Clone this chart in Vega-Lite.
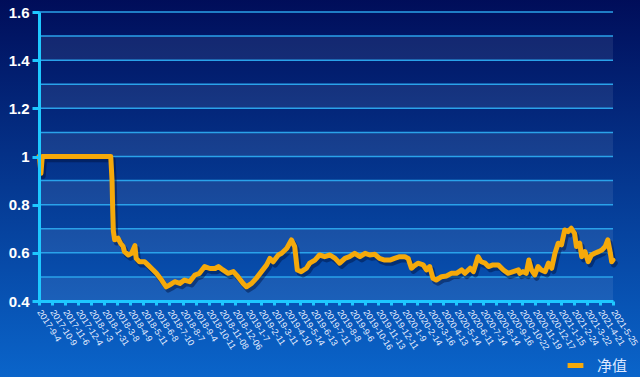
{
  "$schema": "https://vega.github.io/schema/vega-lite/v6.json",
  "width": 574,
  "height": 289,
  "autosize": "none",
  "padding": {"left": 39, "top": 12, "right": 27, "bottom": 76},
  "background": "#04309a",
  "config": {
    "view": {"stroke": null},
    "font": "Liberation Sans",
    "axisX": {
      "title": null, "grid": false,
      "labelAngle": 57, "labelAlign": "left", "labelBaseline": "middle",
      "labelFontSize": 9, "labelColor": "#e6eeff", "labelPadding": 5,
      "labelOverlap": false, "labelFlush": false, "labelBound": false,
      "domainColor": "#1ec8ff", "domainWidth": 3,
      "tickColor": "#1ec8ff", "tickWidth": 3, "tickSize": 4
    },
    "axisY": {
      "title": null, "grid": false,
      "labelFontSize": 15, "labelFontWeight": "bold", "labelColor": "#ffffff", "labelPadding": 3,
      "labelFont": "Liberation Sans",
      "domainColor": "#1ec8ff", "domainWidth": 3,
      "tickColor": "#1ec8ff", "tickWidth": 3, "tickSize": 7
    }
  },
  "datasets": {
    "bands": [
      {"lo": 0.4, "hi": 0.5}, {"lo": 0.6, "hi": 0.7}, {"lo": 0.8, "hi": 0.9},
      {"lo": 1.0, "hi": 1.1}, {"lo": 1.2, "hi": 1.3}, {"lo": 1.4, "hi": 1.5}
    ],
    "grid": [
      {"v": 0.4}, {"v": 0.5}, {"v": 0.6}, {"v": 0.7}, {"v": 0.8}, {"v": 0.9}, {"v": 1.0},
      {"v": 1.1}, {"v": 1.2}, {"v": 1.3}, {"v": 1.4}, {"v": 1.5}, {"v": 1.6}
    ],
    "nav": [
      {"day": 0, "nav": 1.0}, {"day": 1, "nav": 0.99}, {"day": 3, "nav": 0.93}, {"day": 5, "nav": 1.0}, {"day": 110, "nav": 1.0},
      {"day": 112, "nav": 0.9}, {"day": 113, "nav": 0.78}, {"day": 114, "nav": 0.69}, {"day": 116, "nav": 0.654},
      {"day": 121, "nav": 0.661}, {"day": 125, "nav": 0.64}, {"day": 129, "nav": 0.626}, {"day": 131, "nav": 0.605},
      {"day": 137, "nav": 0.591}, {"day": 142, "nav": 0.598}, {"day": 147, "nav": 0.63}, {"day": 149, "nav": 0.577},
      {"day": 154, "nav": 0.563}, {"day": 162, "nav": 0.563}, {"day": 167, "nav": 0.55}, {"day": 175, "nav": 0.529},
      {"day": 180, "nav": 0.515}, {"day": 188, "nav": 0.487}, {"day": 195, "nav": 0.459}, {"day": 200, "nav": 0.466},
      {"day": 208, "nav": 0.48}, {"day": 216, "nav": 0.473}, {"day": 223, "nav": 0.487}, {"day": 231, "nav": 0.48},
      {"day": 239, "nav": 0.508}, {"day": 246, "nav": 0.515}, {"day": 254, "nav": 0.543}, {"day": 262, "nav": 0.535},
      {"day": 270, "nav": 0.535}, {"day": 275, "nav": 0.543}, {"day": 282, "nav": 0.529}, {"day": 290, "nav": 0.515},
      {"day": 298, "nav": 0.522}, {"day": 305, "nav": 0.501}, {"day": 313, "nav": 0.473}, {"day": 318, "nav": 0.459},
      {"day": 326, "nav": 0.473}, {"day": 333, "nav": 0.494}, {"day": 341, "nav": 0.522}, {"day": 349, "nav": 0.55},
      {"day": 354, "nav": 0.577}, {"day": 359, "nav": 0.563}, {"day": 367, "nav": 0.591}, {"day": 372, "nav": 0.598},
      {"day": 380, "nav": 0.619}, {"day": 387, "nav": 0.654}, {"day": 392, "nav": 0.626}, {"day": 396, "nav": 0.529},
      {"day": 402, "nav": 0.522}, {"day": 410, "nav": 0.536}, {"day": 415, "nav": 0.557}, {"day": 423, "nav": 0.57},
      {"day": 430, "nav": 0.591}, {"day": 438, "nav": 0.584}, {"day": 446, "nav": 0.591}, {"day": 454, "nav": 0.577},
      {"day": 461, "nav": 0.557}, {"day": 469, "nav": 0.577}, {"day": 476, "nav": 0.584}, {"day": 484, "nav": 0.598},
      {"day": 492, "nav": 0.584}, {"day": 500, "nav": 0.598}, {"day": 507, "nav": 0.591}, {"day": 515, "nav": 0.594},
      {"day": 522, "nav": 0.577}, {"day": 530, "nav": 0.57}, {"day": 538, "nav": 0.57}, {"day": 545, "nav": 0.577},
      {"day": 553, "nav": 0.584}, {"day": 561, "nav": 0.584}, {"day": 566, "nav": 0.577}, {"day": 571, "nav": 0.536},
      {"day": 574, "nav": 0.543}, {"day": 581, "nav": 0.557}, {"day": 589, "nav": 0.55}, {"day": 594, "nav": 0.529},
      {"day": 599, "nav": 0.543}, {"day": 604, "nav": 0.494}, {"day": 609, "nav": 0.487}, {"day": 617, "nav": 0.501},
      {"day": 625, "nav": 0.504}, {"day": 632, "nav": 0.515}, {"day": 640, "nav": 0.515}, {"day": 648, "nav": 0.529},
      {"day": 653, "nav": 0.515}, {"day": 661, "nav": 0.536}, {"day": 666, "nav": 0.522}, {"day": 673, "nav": 0.584},
      {"day": 678, "nav": 0.563}, {"day": 684, "nav": 0.557}, {"day": 689, "nav": 0.543}, {"day": 696, "nav": 0.55},
      {"day": 704, "nav": 0.55}, {"day": 712, "nav": 0.529}, {"day": 719, "nav": 0.515}, {"day": 727, "nav": 0.522},
      {"day": 735, "nav": 0.529}, {"day": 737, "nav": 0.515}, {"day": 742, "nav": 0.522}, {"day": 747, "nav": 0.515},
      {"day": 751, "nav": 0.57}, {"day": 755, "nav": 0.529}, {"day": 760, "nav": 0.508}, {"day": 765, "nav": 0.543},
      {"day": 770, "nav": 0.529}, {"day": 776, "nav": 0.522}, {"day": 781, "nav": 0.557}, {"day": 786, "nav": 0.536},
      {"day": 791, "nav": 0.598}, {"day": 796, "nav": 0.64}, {"day": 801, "nav": 0.633}, {"day": 806, "nav": 0.695},
      {"day": 811, "nav": 0.688}, {"day": 816, "nav": 0.702}, {"day": 821, "nav": 0.681}, {"day": 824, "nav": 0.626},
      {"day": 829, "nav": 0.64}, {"day": 832, "nav": 0.584}, {"day": 837, "nav": 0.605}, {"day": 842, "nav": 0.563},
      {"day": 847, "nav": 0.591}, {"day": 852, "nav": 0.598}, {"day": 858, "nav": 0.605}, {"day": 863, "nav": 0.612},
      {"day": 868, "nav": 0.626}, {"day": 872, "nav": 0.654}, {"day": 876, "nav": 0.598}, {"day": 878, "nav": 0.563},
      {"day": 880, "nav": 0.57}
    ]
  },
  "layer": [
    {
      "data": {"values": [{}]},
      "mark": {
        "type": "rect",
        "fill": {
          "gradient": "linear", "x1": 0, "y1": 0, "x2": 0, "y2": 1,
          "stops": [{"offset": 0, "color": "#000c58"}, {"offset": 1, "color": "#0a66cc"}]
        }
      },
      "encoding": {
        "x": {
          "datum": -70, "type": "quantitative", "title": null,
          "scale": {"domain": [0, 880], "nice": false, "zero": false},
          "axis": {
            "zindex": 1,
            "values": [0,20,40,60,80,100,120,140,160,180,200,220,240,260,280,300,320,340,360,380,400,420,440,460,480,500,520,540,560,580,600,620,640,660,680,700,720,740,760,780,800,820,840,860,880],
            "labelExpr": "['2017-9-4','2017-10-9','2017-11-6','2017-12-4','2018-1-3','2018-1-31','2018-3-8','2018-4-9','2018-5-11','2018-6-8','2018-7-10','2018-8-7','2018-9-4','2018-10-11','2018-11-08','2018-12-06','2019-1-7','2019-2-11','2019-3-11','2019-4-10','2019-5-14','2019-6-13','2019-7-11','2019-8-8','2019-9-6','2019-10-16','2019-11-13','2019-12-11','2020-1-9','2020-2-14','2020-3-16','2020-4-13','2020-5-14','2020-6-11','2020-7-14','2020-8-14','2020-9-16','2020-10-22','2020-11-19','2020-12-17','2021-1-15','2021-2-24','2021-3-22','2021-4-21','2021-5-25'][round(datum.value/20)]"
          }
        },
        "x2": {"datum": 935},
        "y": {
          "datum": 0.06, "type": "quantitative", "title": null,
          "scale": {"domain": [0.4, 1.6], "nice": false, "zero": false},
          "axis": {"zindex": 1, "values": [0.4, 0.6, 0.8, 1.0, 1.2, 1.4, 1.6], "format": "~g"}
        },
        "y2": {"datum": 1.67}
      }
    },
    {
      "data": {"name": "bands"},
      "mark": {"type": "rect", "fill": "#ffffff", "fillOpacity": 0.08},
      "encoding": {
        "y": {
          "field": "lo", "type": "quantitative", "title": null,
          "scale": {"domain": [0.4, 1.6], "nice": false, "zero": false},
          "axis": {"zindex": 1, "values": [0.4, 0.6, 0.8, 1.0, 1.2, 1.4, 1.6], "format": "~g"}
        },
        "y2": {"field": "hi"}
      }
    },
    {
      "data": {"name": "grid"},
      "mark": {"type": "rule", "stroke": "#2aa2ea", "strokeWidth": 1.5},
      "encoding": {
        "y": {
          "field": "v", "type": "quantitative", "title": null,
          "scale": {"domain": [0.4, 1.6], "nice": false, "zero": false},
          "axis": {"zindex": 1, "values": [0.4, 0.6, 0.8, 1.0, 1.2, 1.4, 1.6], "format": "~g"}
        }
      }
    },
    {
      "data": {"name": "nav"},
      "mark": {"type": "line", "stroke": "#00103a", "strokeOpacity": 0.45, "strokeWidth": 5.5, "xOffset": 2, "yOffset": 3, "strokeJoin": "round", "strokeCap": "round"},
      "encoding": {
        "x": {
          "field": "day", "type": "quantitative", "title": null,
          "scale": {"domain": [0, 880], "nice": false, "zero": false},
          "axis": {
            "zindex": 1,
            "values": [0,20,40,60,80,100,120,140,160,180,200,220,240,260,280,300,320,340,360,380,400,420,440,460,480,500,520,540,560,580,600,620,640,660,680,700,720,740,760,780,800,820,840,860,880],
            "labelExpr": "['2017-9-4','2017-10-9','2017-11-6','2017-12-4','2018-1-3','2018-1-31','2018-3-8','2018-4-9','2018-5-11','2018-6-8','2018-7-10','2018-8-7','2018-9-4','2018-10-11','2018-11-08','2018-12-06','2019-1-7','2019-2-11','2019-3-11','2019-4-10','2019-5-14','2019-6-13','2019-7-11','2019-8-8','2019-9-6','2019-10-16','2019-11-13','2019-12-11','2020-1-9','2020-2-14','2020-3-16','2020-4-13','2020-5-14','2020-6-11','2020-7-14','2020-8-14','2020-9-16','2020-10-22','2020-11-19','2020-12-17','2021-1-15','2021-2-24','2021-3-22','2021-4-21','2021-5-25'][round(datum.value/20)]"
          }
        },
        "y": {
          "field": "nav", "type": "quantitative", "title": null,
          "scale": {"domain": [0.4, 1.6], "nice": false, "zero": false},
          "axis": {"zindex": 1, "values": [0.4, 0.6, 0.8, 1.0, 1.2, 1.4, 1.6], "format": "~g"}
        }
      }
    },
    {
      "data": {"name": "nav"},
      "mark": {"type": "line", "strokeWidth": 5, "strokeJoin": "round", "strokeCap": "round"},
      "encoding": {
        "x": {
          "field": "day", "type": "quantitative", "title": null,
          "scale": {"domain": [0, 880], "nice": false, "zero": false},
          "axis": {
            "zindex": 1,
            "values": [0,20,40,60,80,100,120,140,160,180,200,220,240,260,280,300,320,340,360,380,400,420,440,460,480,500,520,540,560,580,600,620,640,660,680,700,720,740,760,780,800,820,840,860,880],
            "labelExpr": "['2017-9-4','2017-10-9','2017-11-6','2017-12-4','2018-1-3','2018-1-31','2018-3-8','2018-4-9','2018-5-11','2018-6-8','2018-7-10','2018-8-7','2018-9-4','2018-10-11','2018-11-08','2018-12-06','2019-1-7','2019-2-11','2019-3-11','2019-4-10','2019-5-14','2019-6-13','2019-7-11','2019-8-8','2019-9-6','2019-10-16','2019-11-13','2019-12-11','2020-1-9','2020-2-14','2020-3-16','2020-4-13','2020-5-14','2020-6-11','2020-7-14','2020-8-14','2020-9-16','2020-10-22','2020-11-19','2020-12-17','2021-1-15','2021-2-24','2021-3-22','2021-4-21','2021-5-25'][round(datum.value/20)]"
          }
        },
        "y": {
          "field": "nav", "type": "quantitative", "title": null,
          "scale": {"domain": [0.4, 1.6], "nice": false, "zero": false},
          "axis": {"zindex": 1, "values": [0.4, 0.6, 0.8, 1.0, 1.2, 1.4, 1.6], "format": "~g"}
        },
        "color": {
          "datum": "净值", "type": "nominal",
          "scale": {"range": ["#f5a90a"]},
          "legend": {
            "title": null, "orient": "none", "legendX": 526, "legendY": 343, "zindex": 1,
            "symbolType": "stroke", "symbolStrokeWidth": 5, "symbolSize": 250,
            "labelFont": "Noto Sans CJK SC", "labelFontSize": 15, "labelColor": "#dfe8ff", "labelOffset": 11,
            "padding": 0
          }
        }
      }
    }
  ]
}
